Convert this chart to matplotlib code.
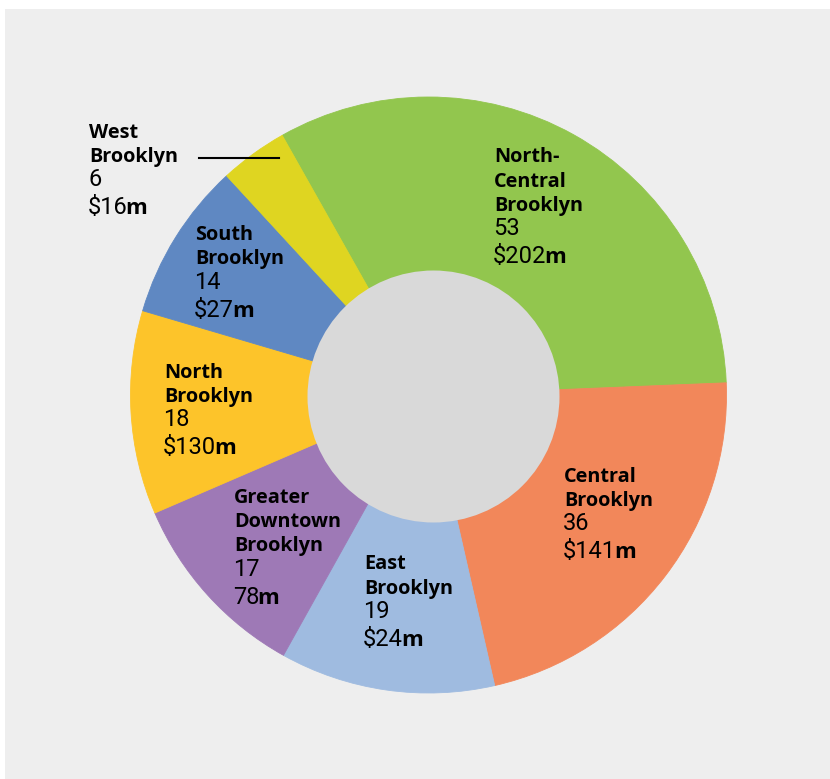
import matplotlib.pyplot as plt
from matplotlib.patches import Circle, Rectangle

# data, clockwise from the top-left
areas = [
    'North-\nCentral\nBrooklyn',
    'Central\nBrooklyn',
    'East\nBrooklyn',
    'Greater\nDowntown\nBrooklyn',
    'North\nBrooklyn',
    'South\nBrooklyn',
    'West\nBrooklyn',
]
counts = [53, 36, 19, 17, 18, 14, 6]
amounts = ['$202', '$141', '$24', '78', '$130', '$27', '$16']

colors = ['#92c64e', '#f2875a', '#9fbbe0', '#9e79b6', '#fdc42a', '#5f88c2', '#dfd521']

# label anchors in pixels (left x, first baseline y)
label_pos = [
    (494, 162.3),
    (564, 481.7),
    (364, 569.3),
    (234, 502.7),
    (164, 377.7),
    (195, 240.0),
    (89, 137.5),
]

W, H = 830, 779
fig = plt.figure(figsize=(W / 100, H / 100), dpi=100, facecolor='white')
ax = fig.add_axes([0, 0, 1, 1])

ax.add_patch(Rectangle((5, 9), W - 5, H - 9, facecolor='#eeeeee',
                       edgecolor='none', zorder=0))

# y axis is flipped, so counterclock in data = clockwise on screen
wedges, _ = ax.pie(
    counts,
    colors=colors,
    center=(428.5, 395),
    radius=298,
    startangle=-119.4,
    counterclock=True,
    frame=True,
    wedgeprops=dict(linewidth=0.6),
)
for w, c in zip(wedges, colors):
    w.set_edgecolor(c)

ax.add_patch(Circle((433.5, 396.5), 126, facecolor='#d9d9d9',
                    edgecolor='none', zorder=5))

ax.set_xlim(0, W)
ax.set_ylim(H, 0)
ax.set_aspect('equal')
ax.axis('off')

bold = dict(family='Open Sans', weight='bold', size=14.3, color='black')
regular = dict(family='Roboto', size=17, color='black')
step = 24.3

for name, n, amt, (x, y) in zip(areas, counts, amounts, label_pos):
    for line in name.split('\n'):
        ax.text(x, y, line, va='baseline', ha='left', zorder=10, **bold)
        y += step
    ax.text(x - 1, y, str(n), va='baseline', ha='left', zorder=10, **regular)
    y += 28
    t = ax.text(x - 1, y, amt.replace('$', r'\$'), va='baseline', ha='left',
                zorder=10, **regular)
    ax.annotate('m', xy=(1, y), xycoords=(t, 'data'), xytext=(-1.5, 0),
                textcoords='offset points', va='baseline', ha='left',
                zorder=10, family='Open Sans', weight='bold', size=16,
                color='black')

# leader line for West Brooklyn
ax.plot([199, 279], [158, 158], color='black', lw=1.5, zorder=10)

fig.savefig('out.png', dpi=100, facecolor='white')
